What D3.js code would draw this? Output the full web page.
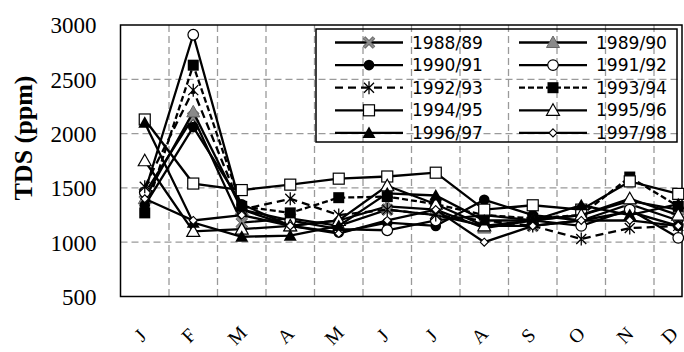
<!DOCTYPE html>
<html><head><meta charset="utf-8">
<script src="https://cdn.jsdelivr.net/npm/d3@7"></script>
<style>body{margin:0;background:#fff} svg{display:block}
.serif{font-family:"Liberation Serif","Times New Roman",Times,"DejaVu Serif",serif !important}</style>
</head><body><svg id="c" width="684" height="352"></svg>
<script>
const months = ["J","F","M","A","M","J","J","A","S","O","N","D"];
const yTicks = [500,1000,1500,2000,2500,3000];
const seriesNames = ["1988/89","1989/90","1990/91","1991/92","1992/93","1993/94","1994/95","1995/96","1996/97","1997/98"];
const s8889 = [1450,2150,1180,1220,1150,1300,1250,1150,1150,1200,1350,1200];
const s8990 = [1400,2200,1300,1150,1200,1330,1300,1130,1200,1250,1380,1300];
const s9091 = [1340,2060,1350,1150,1090,1180,1150,1390,1250,1200,1280,1150];
const s9192 = [1460,2910,1300,1200,1120,1110,1200,1250,1200,1150,1300,1040];
const s9293 = [1510,2400,1300,1400,1250,1300,1250,1200,1150,1030,1130,1150];
const s9394 = [1270,2630,1330,1270,1410,1420,1350,1250,1220,1250,1600,1330];
const s9495 = [2130,1540,1480,1530,1585,1605,1640,1300,1340,1300,1560,1445];
const s9596 = [1750,1100,1120,1150,1200,1520,1350,1150,1200,1250,1400,1250];
const s9697 = [2100,1180,1050,1060,1150,1450,1430,1200,1200,1340,1250,1350];
const s9798 = [1400,1200,1250,1150,1080,1200,1300,1000,1150,1200,1200,1150];
const seriesValues = [s8889,s8990,s9091,s9192,s9293,s9394,s9495,s9596,s9697,s9798];
const markerTypes = ["xGrey","triGrey","circle","circleOpen","star","square","squareOpen","triOpen","tri","diamond"];
const dashes = [null,null,null,null,"8,5","6,3",null,null,null,null];

const svg = d3.select("#c");
const L = 120.5, R = 682, T = 25, B = 296.5;
const idx = d3.range(months.length);
const xBand = d3.scaleBand().domain(idx).range([L, L + 48.5*12]);
const x = d3.scalePoint().domain(idx).range([L, L + 48.5*12]).padding(0.5);
const y = d3.scaleLinear().domain([500,3000]).range([B, T]);

// grid
const grid = svg.append("g").attr("stroke","#9a9a9a").attr("stroke-width",1.3).attr("stroke-dasharray","7,4");
yTicks.filter(v=>v>500 && v<3000).forEach(v=>{
  grid.append("line").attr("x1",L).attr("x2",R).attr("y1",y(v)).attr("y2",y(v));
});
idx.slice(1).forEach(i=>{
  const xx = xBand(i);
  if (xx < R) grid.append("line").attr("x1",xx).attr("x2",xx).attr("y1",T).attr("y2",B);
});

// frame
svg.append("rect").attr("x",L).attr("y",T).attr("width",R-L).attr("height",B-T)
  .attr("fill","none").attr("stroke","#000").attr("stroke-width",1.5);

// y axis labels
const yAxis = d3.axisLeft(y).tickValues(yTicks).tickSize(0).tickPadding(24).tickFormat(d3.format("d"));
const ya = svg.append("g").attr("transform",`translate(${L},0)`).call(yAxis);
ya.attr("font-family",null).attr("font-size",null);
ya.select(".domain").remove();
ya.selectAll("text").attr("class","serif").style("font-size","23px").attr("fill","#000")
  .attr("dy","0.34em");

// y title
svg.append("text").attr("class","serif").attr("transform","translate(32,138) rotate(-90)").attr("text-anchor","middle")
  .attr("font-weight","bold").style("font-size","26px")
  .text("TDS (ppm)");

// x labels
const xAxis = d3.axisBottom(x).tickSize(0).tickFormat(i=>months[i]);
const xa = svg.append("g").attr("transform",`translate(0,${B})`).call(xAxis);
xa.attr("font-family",null).attr("font-size",null);
xa.select(".domain").remove();
xa.selectAll("text").attr("class","serif").style("font-size","19.5px").attr("fill","#000")
  .attr("y",0).attr("dy",0)
  .attr("transform",(d)=>`translate(${d===months.length-1?-9:-5},39) rotate(-45)`)
  .attr("dominant-baseline","central").attr("text-anchor","middle");

function drawMarker(g, type) {
  switch(type) {
    case "xGrey":
      g.append("path").attr("d","M-5,-5L5,5M-5,5L5,-5").attr("stroke","#555").attr("stroke-width",3.6).attr("fill","none");
      g.append("path").attr("d","M-5,-5L5,5M-5,5L5,-5").attr("stroke","#8c8c8c").attr("stroke-width",2.2).attr("fill","none");
      break;
    case "triGrey":
      g.append("path").attr("d","M0,-6.5L6.5,5L-6.5,5Z").attr("fill","#8a8a8a").attr("stroke","#666").attr("stroke-width",1);
      break;
    case "circle":
      g.append("circle").attr("r",5.3).attr("fill","#000");
      break;
    case "circleOpen":
      g.append("circle").attr("r",5.3).attr("fill","#fff").attr("stroke","#000").attr("stroke-width",1.2);
      break;
    case "star":
      g.append("path").attr("d","M-5,-5L5,5M-5,5L5,-5M0,-6.5L0,6.5").attr("stroke","#000").attr("stroke-width",1.3).attr("fill","none");
      break;
    case "square":
      g.append("rect").attr("x",-5.5).attr("y",-5.5).attr("width",11).attr("height",11).attr("fill","#000");
      break;
    case "squareOpen":
      g.append("rect").attr("x",-5.5).attr("y",-5.5).attr("width",11).attr("height",11).attr("fill","#fff").attr("stroke","#000").attr("stroke-width",1.2);
      break;
    case "triOpen":
      g.append("path").attr("d","M0,-6.5L6.5,5L-6.5,5Z").attr("fill","#fff").attr("stroke","#000").attr("stroke-width",1.2);
      break;
    case "tri":
      g.append("path").attr("d","M0,-6.5L6.5,5L-6.5,5Z").attr("fill","#000");
      break;
    case "diamond":
      g.append("path").attr("d","M0,-4L4,0L0,4L-4,0Z").attr("fill","#fff").attr("stroke","#000").attr("stroke-width",1.1);
      break;
  }
}

const line = d3.line().x((d,i)=>x(i)).y(d=>y(d));
seriesValues.forEach((vals,k)=>{
  const g = svg.append("g");
  g.append("path").datum(vals).attr("d",line).attr("fill","none").attr("stroke","#000")
    .attr("stroke-width",2.3).attr("stroke-dasharray",dashes[k]);
  vals.forEach((v,i)=>{
    drawMarker(g.append("g").attr("transform",`translate(${x(i)},${y(v)})`), markerTypes[k]);
  });
});

// legend
const lg = svg.append("g");
lg.append("rect").attr("x",316).attr("y",29).attr("width",361).attr("height",113)
  .attr("fill","none").attr("stroke","#000").attr("stroke-width",1.5);
seriesNames.forEach((name,k)=>{
  const row = Math.floor(k/2), col = k%2;
  const cy = 42.5 + row*22.6;
  const x0 = col ? 519 : 335;
  lg.append("line").attr("x1",x0).attr("x2",x0+68).attr("y1",cy).attr("y2",cy)
    .attr("stroke","#000").attr("stroke-width",2.3).attr("stroke-dasharray",dashes[k]);
  drawMarker(lg.append("g").attr("transform",`translate(${x0+34},${cy})`), markerTypes[k]);
  lg.append("text").attr("x",x0+77).attr("y",cy+6).attr("font-family","'DejaVu Sans', sans-serif")
    .attr("font-size",17).attr("textLength",71).attr("lengthAdjust","spacingAndGlyphs").text(name);
});
</script></body></html>
